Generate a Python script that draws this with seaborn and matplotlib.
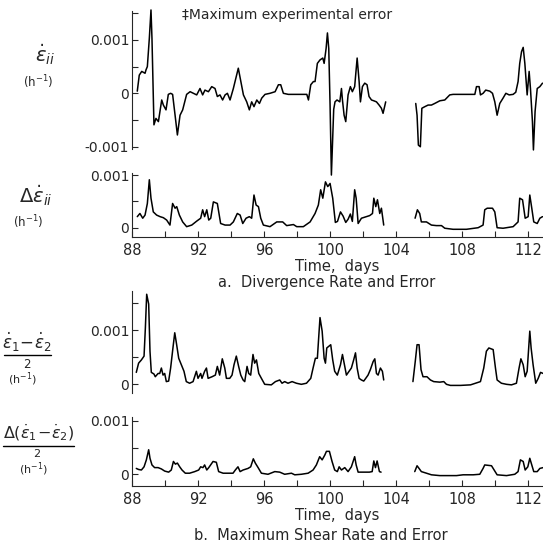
import numpy as np
import pandas as pd
import matplotlib.pyplot as plt
from matplotlib.lines import Line2D
import seaborn as sns

# values, in units of 0.001 h^-1
div_days = [88.32, 88.44, 88.59, 88.79, 88.85, 88.93, 89.05, 89.15, 89.21, 89.33,
            89.45, 89.60, 89.80, 89.90, 90.06, 90.20, 90.34, 90.46, 90.61, 90.75,
            90.91, 91.07, 91.31, 91.52, 91.72, 91.92, 92.12, 92.28, 92.42, 92.63,
            92.83, 93.03, 93.17, 93.33, 93.49, 93.64, 93.78, 93.94, 94.14, 94.44,
            94.75, 94.95, 95.11, 95.25, 95.39, 95.56, 95.72, 95.86, 96.06, 96.36,
            96.67, 96.87, 97.01, 97.17, 97.47, 97.98, 98.59, 98.69, 98.83, 98.99,
            99.09, 99.23, 99.39, 99.56, 99.64, 99.76, 99.84, 99.92, 100.00, 100.08,
            100.22, 100.30, 100.42, 100.59, 100.69, 100.75, 100.85, 100.95, 101.09, 101.23,
            101.35, 101.49, 101.64, 101.76, 101.84, 101.96, 102.10, 102.24, 102.36, 102.51,
            102.65, 102.81, 102.97, 103.11, 103.21, 103.37,
            105.19, 105.27, 105.35, 105.47, 105.56, 105.74, 105.94, 106.14, 106.34, 106.65,
            106.95, 107.25, 107.45, 107.86, 108.26, 108.77, 108.87, 109.03, 109.11, 109.27,
            109.43, 109.68, 109.84, 109.98, 110.12, 110.28, 110.48, 110.65, 110.85, 111.09,
            111.25, 111.39, 111.49, 111.60, 111.70, 111.80, 111.94, 112.06, 112.14, 112.26,
            112.32, 112.42, 112.55, 112.71, 112.87]
div_rate = [0.04, 0.34, 0.41, 0.375, 0.44, 0.5, 1.03, 1.56, 1.03, -0.59,
            -0.47, -0.53, -0.125, -0.22, -0.31, -0.02, 0, -0.02, -0.41, -0.78,
            -0.41, -0.31, -0.02, 0.03, 0, -0.03, 0.09, -0.03, 0.06, 0.03,
            0.125, 0.09, -0.06, -0.03, -0.125, -0.03, 0, -0.125, 0.09, 0.47,
            -0.03, -0.16, -0.31, -0.16, -0.25, -0.125, -0.19, -0.09, -0.02, 0,
            0.03, 0.16, 0.16, 0, -0.02, -0.02, -0.02, -0.125, 0.16, 0.22,
            0.22, 0.56, 0.625, 0.66, 0.56, 0.84, 1.13, 0.84, -0.22, -1.53,
            -0.3, -0.16, -0.125, -0.16, 0.09, -0.125, -0.41, -0.53, -0.03, 0.125,
            0.03, 0.125, 0.66, 0.22, -0.16, 0.125, 0.19, 0.16, -0.06, -0.125,
            -0.14, -0.16, -0.22, -0.28, -0.375, -0.16,
            -0.19, -0.41, -0.97, -1.0, -0.28, -0.25, -0.22, -0.22, -0.19, -0.14,
            -0.125, -0.03, -0.02, -0.02, -0.02, -0.02, 0.125, 0.125, -0.03, 0,
            0.06, 0.04, 0, -0.16, -0.41, -0.19, -0.09, 0, -0.03, -0.02,
            0.02, 0.22, 0.56, 0.78, 0.86, 0.56, -0.03, 0.41, 0.09, -0.53,
            -1.06, -0.34, 0.09, 0.125, 0.19]

div_err_days = [88.32, 88.48, 88.65, 88.79, 88.93, 89.05, 89.15, 89.29, 89.49, 89.70,
                89.90, 90.10, 90.30, 90.46, 90.61, 90.71, 90.87, 91.07, 91.31, 91.62,
                91.92, 92.16, 92.28, 92.40, 92.53, 92.65, 92.77, 92.93, 93.17, 93.37,
                93.64, 93.94, 94.14, 94.38, 94.55, 94.71, 94.91, 95.11, 95.25, 95.39,
                95.52, 95.66, 95.80, 95.96, 96.36, 96.77, 97.13, 97.37, 97.78, 97.98,
                98.38, 98.79, 99.09, 99.29, 99.43, 99.56, 99.72, 99.86, 100.00, 100.16,
                100.32, 100.45, 100.63, 100.79, 100.95, 101.09, 101.23, 101.35, 101.49, 101.58,
                101.70, 101.90, 102.20, 102.40, 102.57, 102.65, 102.77, 102.87, 103.01, 103.11,
                103.25,
                105.15, 105.29, 105.43, 105.53, 105.84, 106.14, 106.44, 106.75, 106.95, 107.45,
                108.26, 108.97, 109.27, 109.37, 109.52, 109.84, 109.98, 110.12, 110.48, 111.09,
                111.39, 111.49, 111.66, 111.82, 112.00, 112.10, 112.22, 112.34, 112.55, 112.71,
                112.87]
div_err = [0.21, 0.27, 0.18, 0.24, 0.46, 0.91, 0.56, 0.30, 0.24, 0.21,
           0.19, 0.145, 0.05, 0.46, 0.37, 0.40, 0.24, 0.11, 0.02, 0.05,
           0.125, 0.18, 0.34, 0.21, 0.34, 0.145, 0.18, 0.49, 0.46, 0.08,
           0.05, 0.05, 0.11, 0.27, 0.24, 0.08, 0.18, 0.21, 0.18, 0.62,
           0.43, 0.40, 0.18, 0.05, 0.02, 0.11, 0.11, 0.04, 0.06, 0.02,
           0.02, 0.11, 0.27, 0.43, 0.72, 0.56, 0.87, 0.78, 0.84, 0.56,
           0.10, 0.12, 0.30, 0.22, 0.10, 0.16, 0.26, 0.12, 0.72, 0.56,
           0.08, 0.18, 0.21, 0.23, 0.27, 0.56, 0.40, 0.53, 0.27, 0.37,
           0.05,
           0.18, 0.34, 0.27, 0.11, 0.11, 0.05, 0.04, 0.04, -0.01, -0.03,
           -0.03, 0, 0.05, 0.34, 0.37, 0.37, 0.30, 0, -0.01, 0.02,
           0.11, 0.56, 0.53, 0.18, 0.21, 0.62, 0.37, 0.11, 0.08, 0.18,
           0.21]

shear_days = [88.26, 88.40, 88.57, 88.73, 88.81, 88.89, 89.01, 89.09, 89.17, 89.33,
              89.41, 89.58, 89.68, 89.78, 89.88, 89.98, 90.08, 90.22, 90.34, 90.48,
              90.59, 90.69, 90.83, 90.99, 91.15, 91.29, 91.49, 91.70, 91.90, 92.00,
              92.16, 92.24, 92.40, 92.51, 92.61, 92.85, 93.05, 93.17, 93.31, 93.47,
              93.62, 93.72, 93.92, 94.06, 94.18, 94.32, 94.46, 94.59, 94.73, 94.83,
              94.97, 95.07, 95.19, 95.33, 95.43, 95.54, 95.68, 95.84, 96.04, 96.44,
              96.69, 96.95, 97.09, 97.25, 97.45, 97.70, 97.96, 98.26, 98.57, 98.83,
              98.97, 99.11, 99.23, 99.31, 99.39, 99.52, 99.64, 99.72, 99.80, 99.92,
              100.04, 100.16, 100.28, 100.44, 100.63, 100.75, 100.89, 100.99, 101.15, 101.29,
              101.43, 101.54, 101.64, 101.76, 101.90, 102.04, 102.16, 102.30, 102.44, 102.61,
              102.71, 102.81, 102.91, 103.05, 103.17, 103.25,
              105.02, 105.16, 105.27, 105.39, 105.51, 105.63, 105.87, 106.08, 106.28, 106.65,
              106.89, 107.05, 107.29, 107.90, 108.51, 108.81, 109.11, 109.31, 109.47, 109.62,
              109.88, 110.02, 110.12, 110.38, 110.69, 110.99, 111.29, 111.45, 111.56, 111.70,
              111.82, 111.94, 112.02, 112.10, 112.18, 112.30, 112.46, 112.61, 112.75, 112.91]
shear_rate = [0.22, 0.39, 0.45, 0.52, 1.04, 1.66, 1.48, 0.61, 0.22, 0.19,
              0.14, 0.20, 0.20, 0.30, 0.17, 0.20, 0.05, 0.06, 0.30, 0.67,
              0.95, 0.76, 0.48, 0.36, 0.24, 0.05, 0.02, 0.05, 0.24, 0.11,
              0.20, 0.11, 0.24, 0.30, 0.11, 0.14, 0.17, 0.33, 0.17, 0.47,
              0.30, 0.11, 0.11, 0.17, 0.36, 0.52, 0.33, 0.17, 0.08, 0.05,
              0.33, 0.20, 0.17, 0.55, 0.39, 0.45, 0.20, 0.11, 0, -0.01,
              0.05, 0.08, 0.02, 0.05, 0.02, 0.05, 0.02, 0, 0.02, 0.11,
              0.30, 0.48, 0.48, 0.86, 1.23, 0.98, 0.48, 0.39, 0.67, 0.70,
              0.73, 0.45, 0.24, 0.17, 0.36, 0.55, 0.33, 0.17, 0.24, 0.30,
              0.45, 0.58, 0.30, 0.11, 0.08, 0.06, 0.11, 0.17, 0.27, 0.42,
              0.47, 0.20, 0.17, 0.30, 0.24, 0.08,
              0.05, 0.42, 0.73, 0.73, 0.27, 0.14, 0.14, 0.08, 0.05, 0.04,
              0.05, 0, -0.02, -0.02, -0.01, 0.02, 0.05, 0.30, 0.61, 0.67,
              0.64, 0.30, 0.08, 0.02, 0, -0.01, 0.02, 0.30, 0.47, 0.36,
              0.14, 0.24, 0.61, 0.98, 0.67, 0.36, 0.02, 0.11, 0.22, 0.20]

shear_err_days = [88.26, 88.40, 88.57, 88.73, 88.87, 89.01, 89.09, 89.21, 89.37, 89.58,
                  89.78, 89.98, 90.22, 90.38, 90.51, 90.63, 90.75, 90.89, 91.03, 91.23,
                  91.49, 91.80, 92.04, 92.16, 92.30, 92.40, 92.53, 92.65, 92.91, 93.11,
                  93.25, 93.52, 93.82, 94.12, 94.26, 94.42, 94.55, 94.73, 95.03, 95.19,
                  95.35, 95.47, 95.64, 95.84, 96.24, 96.65, 96.95, 97.25, 97.66, 97.86,
                  98.26, 98.67, 98.97, 99.17, 99.37, 99.52, 99.68, 99.78, 99.96, 100.12,
                  100.28, 100.44, 100.55, 100.69, 100.89, 101.09, 101.29, 101.49, 101.58, 101.70,
                  101.98, 102.38, 102.55, 102.65, 102.75, 102.85, 102.99, 103.09,
                  105.13, 105.27, 105.39, 105.53, 105.84, 106.14, 106.65, 107.05, 107.66, 108.06,
                  108.67, 109.07, 109.27, 109.37, 109.78, 109.98, 110.12, 110.69, 111.19, 111.39,
                  111.53, 111.70, 111.82, 111.98, 112.10, 112.22, 112.34, 112.55, 112.71, 112.91]
shear_err = [0.11, 0.09, 0.08, 0.14, 0.27, 0.46, 0.30, 0.175, 0.125, 0.125,
             0.10, 0.06, 0.04, 0.08, 0.24, 0.19, 0.21, 0.14, 0.08, 0.02,
             0.02, 0.05, 0.08, 0.14, 0.125, 0.175, 0.08, 0.125, 0.24, 0.225,
             0.05, 0.02, 0.02, 0.02, 0.08, 0.14, 0.05, 0.08, 0.11, 0.14,
             0.29, 0.21, 0.125, 0.02, 0, 0.05, 0.04, 0, 0.02, -0.01,
             0, 0.02, 0.08, 0.175, 0.33, 0.27, 0.36, 0.43, 0.43, 0.24,
             0.08, 0.05, 0.14, 0.08, 0.125, 0.05, 0.14, 0.33, 0.175, 0.04,
             0.04, 0.04, 0.05, 0.25, 0.125, 0.25, 0.05, 0.04,
             0.05, 0.16, 0.11, 0.05, 0.02, -0.01, -0.025, -0.025, -0.025, -0.01,
             -0.01, 0, 0.11, 0.175, 0.16, 0.06, -0.01, -0.025, 0, 0.05,
             0.27, 0.24, 0.08, 0.14, 0.30, 0.175, 0.05, 0.05, 0.11, 0.125]

day_ticks = [88, 92, 96, 100, 104, 108, 112]


def to_frame(days, vals):
    df = pd.DataFrame({"day": days, "val": np.array(vals) * 1e-3})
    # record has a gap between day 103 and 105
    df["seg"] = np.where(df["day"] < 104, 0, 1)
    return df


sns.set_style("ticks")
plt.rcParams["font.family"] = ["DejaVu Sans"]
plt.rcParams["mathtext.fontset"] = "dejavusans"

fig = plt.figure(figsize=(5.43, 5.44), dpi=100)
W = 543.0
H = 544.0


def px_axes(left, top, right, bottom):
    return fig.add_axes([left / W, 1 - bottom / H, (right - left) / W, (bottom - top) / H])


def label(x, y, s, size):
    fig.text(x / W, 1 - y / H, s, fontsize=size, ha="center", va="center")


def frac_bar(x0, x1, y):
    fig.add_artist(Line2D([x0 / W, x1 / W], [1 - y / H, 1 - y / H],
                          transform=fig.transFigure, color="black", linewidth=1.0))


panels = [
    (to_frame(div_days, div_rate), px_axes(132, 10.5, 543, 149.4), (-0.00105, 0.00155),
     [-0.001, 0, 0.001], ["-0.001", "0", "0.001"], [-0.0005, 0.0005, 0.0015], False),
    (to_frame(div_err_days, div_err), px_axes(132, 172.9, 543, 237.2), (-0.00018, 0.00104),
     [0, 0.001], ["0", "0.001"], [0.0005], True),
    (to_frame(shear_days, shear_rate), px_axes(132, 291.0, 543, 393.0), (-0.00016, 0.00172),
     [0, 0.001], ["0", "0.001"], [0.0005, 0.0015], False),
    (to_frame(shear_err_days, shear_err), px_axes(132, 416.7, 543, 486.0), (-0.00022, 0.00108),
     [0, 0.001], ["0", "0.001"], [0.0005], True),
]

for df, ax, ylim, yt, ylab, ymin, has_x in panels:
    sns.lineplot(data=df, x="day", y="val", units="seg", estimator=None,
                 color="black", linewidth=1.1, ax=ax, clip_on=False, legend=False)
    ax.set_xlim(88, 112.9)
    ax.set_ylim(*ylim)
    ax.set_yticks(yt)
    ax.set_yticklabels(ylab)
    ax.set_yticks(ymin, minor=True)
    ax.set_ylabel("")
    ax.set_facecolor("none")
    sns.despine(ax=ax, top=True, right=True, bottom=not has_x)
    ax.tick_params(axis="y", which="both", direction="in", length=4, width=0.8,
                   labelsize=10, pad=2)
    for s in ax.spines.values():
        s.set_linewidth(0.8)
    if has_x:
        ax.set_xticks(day_ticks)
        ax.set_xticklabels([str(d) for d in day_ticks])
        ax.set_xticks(np.arange(90, 113, 4), minor=True)
        ax.tick_params(axis="x", which="both", direction="in", length=4, width=0.8,
                       labelsize=10.5, pad=4)
        ax.set_xlabel("Time,  days", fontsize=10.5, labelpad=1)
    else:
        ax.set_xticks([])
        ax.set_xlabel("")

# left-hand quantity labels
label(45, 55, r"$\dot{\epsilon}_{ii}$", 14)
label(38, 82, r"(h$^{-1}$)", 8.5)
label(36, 196, r"$\Delta\dot{\epsilon}_{ii}$", 14)
label(28, 222, r"(h$^{-1}$)", 8.5)

label(27, 342, r"$\dot{\epsilon}_1\!-\!\dot{\epsilon}_2$", 12)
frac_bar(4, 51, 355)
label(27, 364, "2", 8.5)
label(22, 379, r"(h$^{-1}$)", 8)

label(39, 433, r"$\Delta(\dot{\epsilon}_1\!-\!\dot{\epsilon}_2)$", 11.5)
frac_bar(3, 74, 446)
label(37, 454, "2", 8)
label(33, 469, r"(h$^{-1}$)", 8)

fig.text(182 / W, 1 - 15 / H, "\u2021Maximum experimental error", fontsize=10,
         ha="left", va="center")
label(327, 282, "a.  Divergence Rate and Error", 10.5)
label(321, 535, "b.  Maximum Shear Rate and Error", 10.5)

fig.savefig("out.png", dpi=100)
